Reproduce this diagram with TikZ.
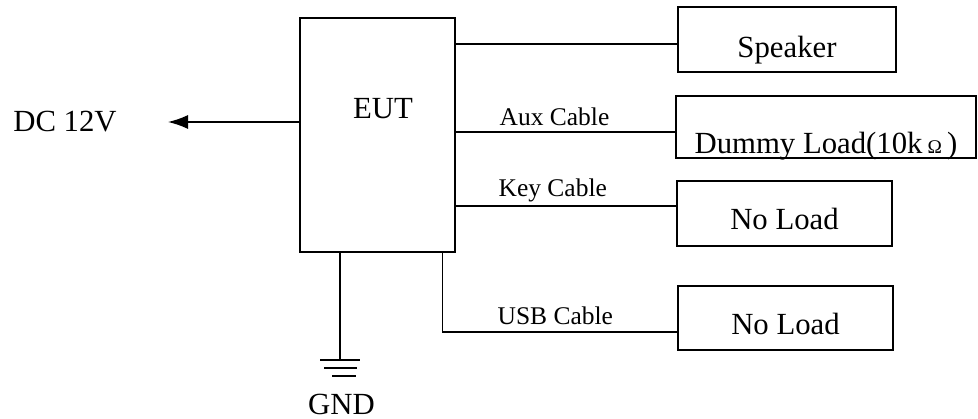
\documentclass[tikz,border=0pt]{standalone}
\usepackage{fontspec}
\setmainfont{Liberation Serif}
\usetikzlibrary{positioning,arrows.meta}

\begin{document}
\begin{tikzpicture}[x=0.02cm, y=-0.02cm,
  unit/.style={draw, line width=0.8pt, minimum width=3.1cm, minimum height=4.68cm},
  load/.style={draw, line width=0.8pt, inner sep=0pt, minimum width=4.3cm,
               minimum height=1.3cm, text depth=0pt, text height=0.68cm,
               font=\fontsize{17.5}{20}\selectfont},
  txt/.style={inner sep=0pt, font=\fontsize{17.5}{20}\selectfont},
  cbl/.style={inner sep=0pt, text depth=0pt, font=\fontsize{14.5}{16}\selectfont},
  wire/.style={line width=0.8pt},
  arr/.style={wire, -{Latex[length=0.4cm, width=0.28cm]}},
]
\useasboundingbox (0,0) rectangle (978,419);

\node[unit] (eut) at (377.5,135) {};
\node[txt] (eutlbl) at (383,109) {EUT};

\node[load, minimum width=4.36cm, text height=0.74cm] (spk) at (787,39.5) {Speaker};
\node[load, minimum width=6cm, minimum height=1.24cm, text height=1.08cm] (dum) at (826,127)
  {Dummy Load(10k\,{\fontsize{11}{11}\selectfont Ω}\,)};
\node[load, text height=0.66cm] (nl1) at (784.5,213.5) {No Load};
\node[load, minimum height=1.28cm] (nl2) at (785.5,318) {No Load};

\node[txt] (dc) at (65,122) {DC 12V};
\coordinate (gnd) at (340,360);
\node[txt] (gndlbl) at (341.5,404) {GND};

% cables
\coordinate (spkin) at ([yshift=-0.09cm]spk.west);
\draw[wire] (eut.east |- spkin) -- (spkin);
\coordinate (dumin) at ([yshift=-0.1cm]dum.west);
\draw[wire] (eut.east |- dumin) -- node[cbl, pos=0.45, above=0.12cm] (auxlbl) {Aux Cable} (dumin);
\coordinate (nl1in) at ([yshift=0.15cm]nl1.west);
\draw[wire] (eut.east |- nl1in) -- node[cbl, pos=0.44, above=0.18cm] (keylbl) {Key Cable} (nl1in);
\coordinate (nl2in) at ([yshift=-0.28cm]nl2.west);
\draw[wire] ([xshift=-0.26cm]eut.south east) |- node[cbl, pos=0.74, above=0.14cm] (usblbl) {USB Cable} (nl2in);

% power and ground
\draw[arr, shorten >=1.02cm] (eut.west |- dc) -- (dc.east);
\draw[wire] (eut.south -| gnd) -- (gnd);
\draw[wire] ([xshift=-0.4cm]gnd) -- ([xshift=0.4cm]gnd)
  ([xshift=-0.32cm,yshift=-0.16cm]gnd) -- ([xshift=0.34cm,yshift=-0.16cm]gnd)
  ([xshift=-0.16cm,yshift=-0.32cm]gnd) -- ([xshift=0.32cm,yshift=-0.32cm]gnd);

\end{tikzpicture}
\end{document}
